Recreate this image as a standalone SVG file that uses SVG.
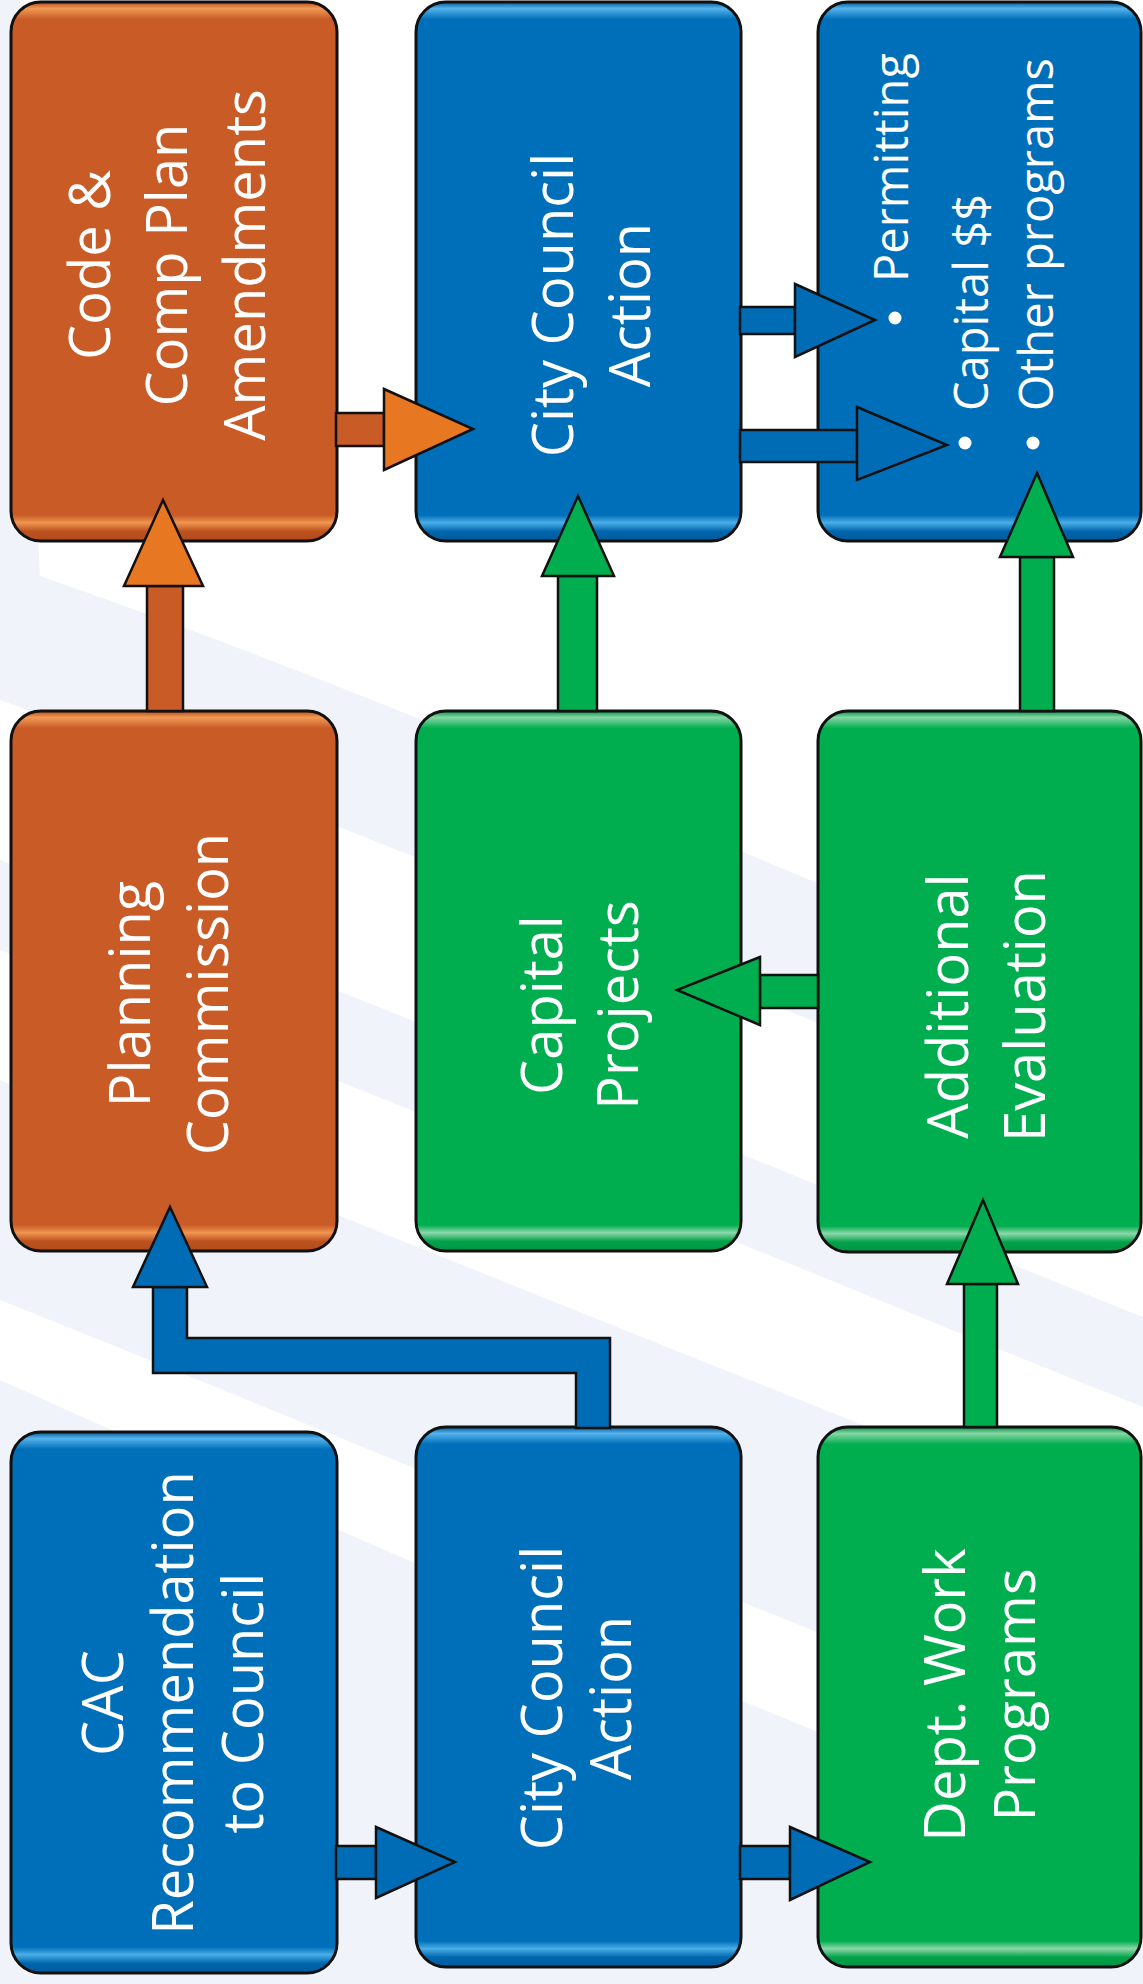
<svg xmlns="http://www.w3.org/2000/svg" width="1143" height="1984" viewBox="0 0 1143 1984">
  <defs>
    <linearGradient id="gOrange" x1="0" y1="0" x2="0" y2="1">
      <stop offset="0" stop-color="#b24a1a"/>
      <stop offset="0.012" stop-color="#f29a55"/>
      <stop offset="0.032" stop-color="#c95b27"/>
      <stop offset="0.952" stop-color="#c95b27"/>
      <stop offset="0.966" stop-color="#f0964f"/>
      <stop offset="0.982" stop-color="#bd5220"/>
      <stop offset="1" stop-color="#b24a1a"/>
    </linearGradient>
    <linearGradient id="gBlue" x1="0" y1="0" x2="0" y2="1">
      <stop offset="0" stop-color="#005a9c"/>
      <stop offset="0.012" stop-color="#55b3ec"/>
      <stop offset="0.032" stop-color="#006fb9"/>
      <stop offset="0.952" stop-color="#006fb9"/>
      <stop offset="0.966" stop-color="#4aaee8"/>
      <stop offset="0.982" stop-color="#0066ad"/>
      <stop offset="1" stop-color="#005a9c"/>
    </linearGradient>
    <linearGradient id="gGreen" x1="0" y1="0" x2="0" y2="1">
      <stop offset="0" stop-color="#009444"/>
      <stop offset="0.012" stop-color="#86d6a4"/>
      <stop offset="0.032" stop-color="#00ae4f"/>
      <stop offset="0.952" stop-color="#00ae4f"/>
      <stop offset="0.966" stop-color="#8dd8aa"/>
      <stop offset="0.982" stop-color="#00a249"/>
      <stop offset="1" stop-color="#009444"/>
    </linearGradient>
    <style>
      .box { stroke: #111; stroke-width: 3; }
      .orange { fill: url(#gOrange); }
      .blue { fill: url(#gBlue); }
      .green { fill: url(#gGreen); }
      .lbl { fill: #ffffff; font-family: "Open Sans", "Noto Sans", "Liberation Sans", sans-serif; font-size: 56px; text-anchor: middle; }
      .bul { fill: #ffffff; font-family: "Open Sans", "Noto Sans", "Liberation Sans", sans-serif; font-size: 47px; }
      .dot { fill: #ffffff; }
      .arr { stroke: #111; stroke-width: 2.5; stroke-linejoin: miter; }
      .aoS { fill: #c95b27; }
      .aoH { fill: #e87722; }
      .ab { fill: #006cb5; }
      .ag { fill: #00ae4f; }
      .sw { fill: #ffffff; }
    </style>
  </defs>

  <g id="background">
    <rect x="0" y="0" width="1143" height="1984" fill="#f0f4fa"/>
    <path class="sw" d="M20,0 H1143 V1017 C800,880 400,700 40,576 C30,380 24,180 20,0 Z"/>
    <path class="sw" d="M0,700 C400,840 800,1020 1143,1157 V1317 C800,1180 400,1010 0,860 Z"/>
    <path class="sw" d="M0,950 C400,1100 800,1270 1143,1407 V1537 C800,1400 400,1240 0,1080 Z"/>
    <path class="sw" d="M0,1300 C400,1460 800,1630 1143,1760 V1860 C800,1730 400,1560 0,1380 Z"/>
  </g>

  <g id="nodes">
    <g id="node-code-comp-plan">
      <rect class="box orange" x="11" y="2" width="326" height="539" rx="30" ry="30"/>
      <text class="lbl" transform="translate(110,265) rotate(-90)">Code &amp;</text>
      <text class="lbl" transform="translate(187,265) rotate(-90)">Comp Plan</text>
      <text class="lbl" transform="translate(265,265) rotate(-90)">Amendments</text>
    </g>
    <g id="node-city-council-action-top">
      <rect class="box blue" x="416" y="2" width="325" height="539" rx="30" ry="30"/>
      <text class="lbl" transform="translate(573,305) rotate(-90)">City Council</text>
      <text class="lbl" transform="translate(650,305) rotate(-90)">Action</text>
    </g>
    <g id="node-outcomes">
      <rect class="box blue" x="818" y="2" width="323" height="539" rx="30" ry="30"/>
      <circle class="dot" cx="895" cy="318" r="6.5"/>
      <text class="bul" transform="translate(908,282) rotate(-90)">Permitting</text>
      <circle class="dot" cx="965" cy="443" r="6.5"/>
      <text class="bul" transform="translate(988,411) rotate(-90)">Capital $$</text>
      <circle class="dot" cx="1033" cy="443" r="6.5"/>
      <text class="bul" transform="translate(1053,411) rotate(-90)">Other programs</text>
    </g>
    <g id="node-planning-commission">
      <rect class="box orange" x="11" y="711" width="326" height="540" rx="30" ry="30"/>
      <text class="lbl" transform="translate(150,994) rotate(-90)">Planning</text>
      <text class="lbl" transform="translate(228,994) rotate(-90)">Commission</text>
    </g>
    <g id="node-capital-projects">
      <rect class="box green" x="416" y="711" width="325" height="540" rx="30" ry="30"/>
      <text class="lbl" transform="translate(562,1005) rotate(-90)">Capital</text>
      <text class="lbl" transform="translate(638,1005) rotate(-90)">Projects</text>
    </g>
    <g id="node-additional-evaluation">
      <rect class="box green" x="818" y="711" width="323" height="541" rx="30" ry="30"/>
      <text class="lbl" transform="translate(968,1006) rotate(-90)">Additional</text>
      <text class="lbl" transform="translate(1045,1006) rotate(-90)">Evaluation</text>
    </g>
    <g id="node-cac-recommendation">
      <rect class="box blue" x="11" y="1432" width="326" height="541" rx="30" ry="30"/>
      <text class="lbl" transform="translate(123,1703) rotate(-90)">CAC</text>
      <text class="lbl" transform="translate(193,1703) rotate(-90)">Recommendation</text>
      <text class="lbl" transform="translate(263,1703) rotate(-90)">to Council</text>
    </g>
    <g id="node-city-council-action-bottom">
      <rect class="box blue" x="416" y="1427" width="325" height="540" rx="30" ry="30"/>
      <text class="lbl" transform="translate(562,1698) rotate(-90)">City Council</text>
      <text class="lbl" transform="translate(631,1698) rotate(-90)">Action</text>
    </g>
    <g id="node-dept-work-programs">
      <rect class="box green" x="818" y="1427" width="323" height="540" rx="30" ry="30"/>
      <text class="lbl" transform="translate(965,1695) rotate(-90)">Dept. Work</text>
      <text class="lbl" transform="translate(1035,1695) rotate(-90)">Programs</text>
    </g>
  </g>

  <g id="connectors">
    <rect class="arr aoS" x="336" y="413" width="48" height="33"/>
    <polygon class="arr aoH" points="384,389 473,429 384,470"/>
    <rect class="arr aoS" x="147" y="586" width="36" height="125"/>
    <polygon class="arr aoH" points="124,586 163,500 203,586"/>
    <rect class="arr ab" x="740" y="307" width="55" height="27"/>
    <polygon class="arr ab" points="795,284 875,320 795,357"/>
    <rect class="arr ab" x="740" y="430" width="117" height="32"/>
    <polygon class="arr ab" points="857,407 947,445 857,480"/>
    <rect class="arr ag" x="558" y="576" width="39" height="135"/>
    <polygon class="arr ag" points="542,576 578,496 614,576"/>
    <rect class="arr ag" x="1020" y="557" width="34" height="154"/>
    <polygon class="arr ag" points="1000,557 1037,473 1073,557"/>
    <rect class="arr ag" x="760" y="975" width="58" height="33"/>
    <polygon class="arr ag" points="760,957 677,990 760,1025"/>
    <rect class="arr ag" x="964" y="1284" width="33" height="143"/>
    <polygon class="arr ag" points="947,1284 983,1200 1018,1284"/>
    <polygon class="arr ab" points="153,1287 187,1287 187,1338 610,1338 610,1428 576,1428 576,1373 153,1373"/>
    <polygon class="arr ab" points="133,1287 170,1207 207,1287"/>
    <rect class="arr ab" x="336" y="1846" width="40" height="33"/>
    <polygon class="arr ab" points="376,1827 455,1862 376,1898"/>
    <rect class="arr ab" x="740" y="1846" width="50" height="33"/>
    <polygon class="arr ab" points="790,1827 870,1862 790,1900"/>
  </g>
</svg>
